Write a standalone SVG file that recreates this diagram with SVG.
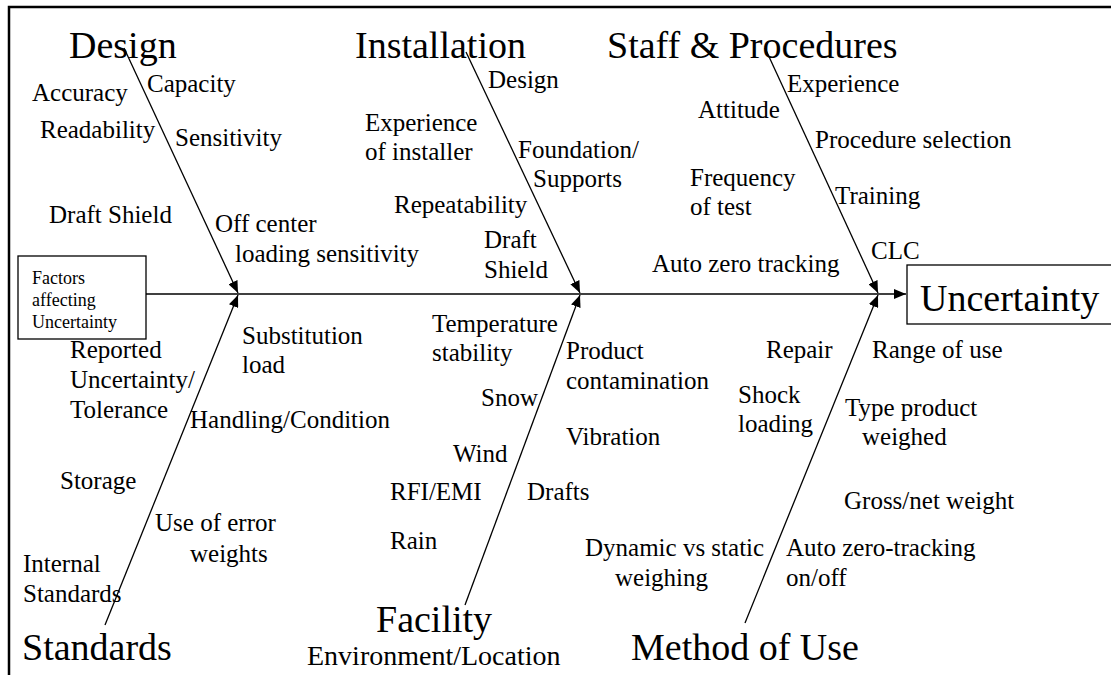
<svg xmlns="http://www.w3.org/2000/svg" width="1111" height="675" viewBox="0 0 1111 675">
<style>
text{font-family:"Liberation Serif","Times New Roman",serif;fill:#000}
.h{font-size:38px}
.l{font-size:25px}
.s{font-size:18px}
.bone{stroke:#000;stroke-width:1.3;fill:none}
.box{stroke:#000;stroke-width:1.3;fill:#fff}
</style>
<defs>
<marker id="ah" viewBox="0 0 12 10" refX="12" refY="5" markerWidth="12" markerHeight="10" markerUnits="userSpaceOnUse" orient="auto">
<path d="M0,0 L12,5 L0,10 z" fill="#000"/>
</marker>
</defs>
<rect width="1111" height="675" fill="#fff"/>
<path d="M9,675 V7 H1111" stroke="#000" stroke-width="2.5" fill="none"/>

<g id="connectors">
<line class="bone" x1="146" y1="294" x2="906" y2="294" marker-end="url(#ah)"/>
<line class="bone" x1="124" y1="48" x2="238" y2="293" marker-end="url(#ah)"/>
<line class="bone" x1="105" y1="625" x2="238" y2="295" marker-end="url(#ah)"/>
<line class="bone" x1="466" y1="52" x2="580" y2="293" marker-end="url(#ah)"/>
<line class="bone" x1="465" y1="605" x2="580" y2="295" marker-end="url(#ah)"/>
<line class="bone" x1="765" y1="48" x2="878" y2="293" marker-end="url(#ah)"/>
<line class="bone" x1="745" y1="623" x2="878" y2="295" marker-end="url(#ah)"/>
</g>

<g id="factors">
<rect class="box" x="18" y="256" width="128" height="83"/>
<text class="s" x="32" y="284">Factors</text>
<text class="s" x="32" y="306">affecting</text>
<text class="s" x="32" y="328">Uncertainty</text>
</g>

<g id="uncertainty">
<rect class="box" x="907" y="265" width="220" height="59"/>
<text class="h" x="920" y="311">Uncertainty</text>
</g>

<g id="design">
<text class="h" x="69" y="58">Design</text>
<text class="l" x="32" y="101">Accuracy</text>
<text class="l" x="147" y="92">Capacity</text>
<text class="l" x="175" y="146">Sensitivity</text>
<text class="l" x="40" y="138">Readability</text>
<text class="l" x="49" y="223">Draft Shield</text>
<text class="l" x="215" y="232">Off center</text>
<text class="l" x="235" y="262">loading sensitivity</text>
</g>

<g id="installation">
<text class="h" x="355" y="58">Installation</text>
<text class="l" x="488" y="88">Design</text>
<text class="l" x="365" y="131">Experience</text>
<text class="l" x="365" y="160">of installer</text>
<text class="l" x="518" y="158">Foundation/</text>
<text class="l" x="533" y="187">Supports</text>
<text class="l" x="394" y="213">Repeatability</text>
<text class="l" x="484" y="248">Draft</text>
<text class="l" x="484" y="278">Shield</text>
</g>

<g id="staff">
<text class="h" x="607" y="58">Staff &amp; Procedures</text>
<text class="l" x="787" y="92">Experience</text>
<text class="l" x="698" y="118">Attitude</text>
<text class="l" x="815" y="148">Procedure selection</text>
<text class="l" x="690" y="186">Frequency</text>
<text class="l" x="690" y="215">of test</text>
<text class="l" x="835" y="204">Training</text>
<text class="l" x="652" y="272">Auto zero tracking</text>
<text class="l" x="871" y="259">CLC</text>
</g>

<g id="standards">
<text class="h" x="22" y="660">Standards</text>
<text class="l" x="242" y="344">Substitution</text>
<text class="l" x="242" y="373">load</text>
<text class="l" x="70" y="358">Reported</text>
<text class="l" x="70" y="388">Uncertainty/</text>
<text class="l" x="70" y="418">Tolerance</text>
<text class="l" x="190" y="428">Handling/Condition</text>
<text class="l" x="60" y="489">Storage</text>
<text class="l" x="155" y="531">Use of error</text>
<text class="l" x="190" y="562">weights</text>
<text class="l" x="23" y="572">Internal</text>
<text class="l" x="23" y="602">Standards</text>
</g>

<g id="facility">
<text class="h" x="376" y="632">Facility</text>
<text x="307" y="665" style="font-size:28px">Environment/Location</text>
<text class="l" x="432" y="332">Temperature</text>
<text class="l" x="432" y="361">stability</text>
<text class="l" x="566" y="359">Product</text>
<text class="l" x="566" y="389">contamination</text>
<text class="l" x="481" y="406">Snow</text>
<text class="l" x="566" y="445">Vibration</text>
<text class="l" x="453" y="462">Wind</text>
<text class="l" x="390" y="500">RFI/EMI</text>
<text class="l" x="527" y="500">Drafts</text>
<text class="l" x="390" y="549">Rain</text>
</g>

<g id="method">
<text class="h" x="631" y="660">Method of Use</text>
<text class="l" x="766" y="358">Repair</text>
<text class="l" x="872" y="358">Range of use</text>
<text class="l" x="738" y="403">Shock</text>
<text class="l" x="738" y="432">loading</text>
<text class="l" x="845" y="416">Type product</text>
<text class="l" x="862" y="445">weighed</text>
<text class="l" x="844" y="509">Gross/net weight</text>
<text class="l" x="585" y="556">Dynamic vs static</text>
<text class="l" x="615" y="586">weighing</text>
<text class="l" x="786" y="556">Auto zero-tracking</text>
<text class="l" x="786" y="586">on/off</text>
</g>
</svg>
